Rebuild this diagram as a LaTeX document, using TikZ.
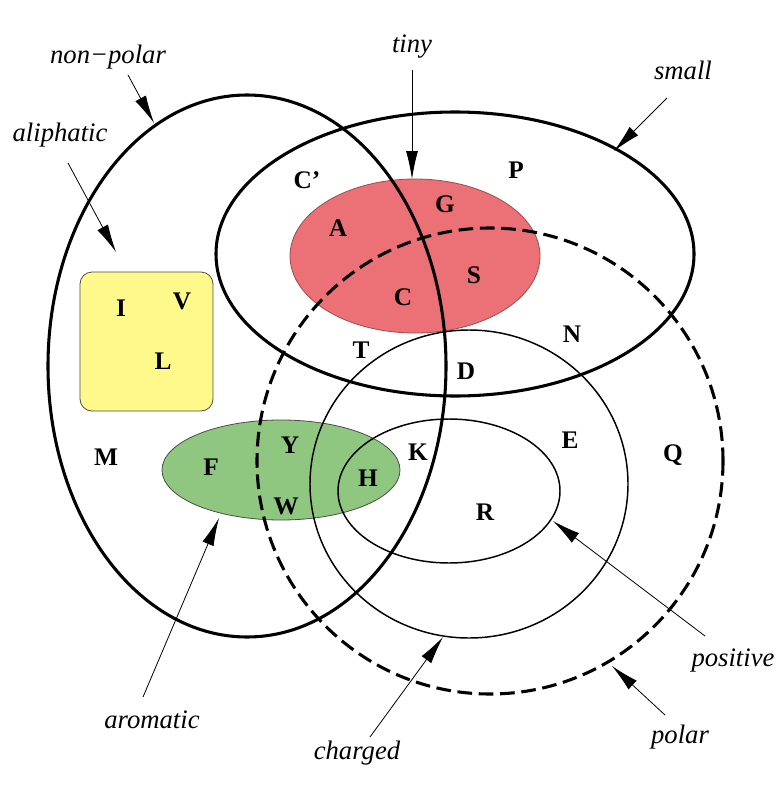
\documentclass[tikz,border=0pt]{standalone}
\usepackage{fontspec}
\setmainfont{Liberation Serif}
\usetikzlibrary{arrows.meta}

\definecolor{tinyred}{RGB}{235,113,118}
\definecolor{aromgreen}{RGB}{143,198,128}
\definecolor{aliphyellow}{RGB}{255,249,140}

\begin{document}
\begin{tikzpicture}[x=0.75pt,y=-0.75pt,
  setline/.style={line width=2.3pt},
  thinset/.style={line width=1.1pt},
  polarline/.style={line width=2.3pt,dash pattern=on 11pt off 5pt},
  fillset/.style={draw=black!70,line width=0.6pt},
  aa/.style={font=\fontsize{19}{22}\selectfont\bfseries,inner sep=0pt},
  lbl/.style={font=\fontsize{20}{24}\selectfont\itshape,inner sep=1pt},
  pointer/.style={line width=0.6pt,-{Latex[length=21pt,width=9pt]}}]

\useasboundingbox (0,0) rectangle (778,792);
\fill[white] (0,0) rectangle (778,792);

% filled classes
\draw[fillset,fill=aliphyellow,rounded corners=9pt] (80,272) rectangle (213,411);
\draw[fillset,draw=red!45!black!70,fill=tinyred] (415,256) ellipse [x radius=125, y radius=77];
\draw[fillset,fill=aromgreen] (281,470) ellipse [x radius=119, y radius=50];

% outlined classes
\draw[setline] (247,366) ellipse [x radius=199, y radius=271];   % non-polar
\draw[setline] (455,254) ellipse [x radius=239, y radius=142];   % small
\draw[polarline] (490,461) circle [radius=233];                  % polar
\draw[thinset] (469,484) ellipse [x radius=159, y radius=154];   % charged
\draw[thinset] (449,491) ellipse [x radius=111, y radius=72];    % positive

% amino acids
\node[aa] (Cp) at (307,180) {C'};
\node[aa] (P) at (516,170) {P};
\node[aa] (A) at (338,228) {A};
\node[aa] (G) at (445,204) {G};
\node[aa] (S) at (474,275) {S};
\node[aa] (C) at (403,297) {C};
\node[aa] (I) at (121,308) {I};
\node[aa] (V) at (182,301) {V};
\node[aa] (L) at (163,361) {L};
\node[aa] (T) at (361,350) {T};
\node[aa] (N) at (572,334) {N};
\node[aa] (D) at (466,371) {D};
\node[aa] (E) at (570,440) {E};
\node[aa] (Q) at (673,455) {Q};
\node[aa] (M) at (106,457) {M};
\node[aa] (F) at (211,467) {F};
\node[aa] (Y) at (290,445) {Y};
\node[aa] (K) at (418,452) {K};
\node[aa] (H) at (368,478) {H};
\node[aa] (W) at (286,506) {W};
\node[aa] (R) at (485,512) {R};

% class labels
\node[lbl] (lnp) at (108,57) {non−polar};
\node[lbl] (ltiny) at (412,47) {tiny};
\node[lbl] (lsmall) at (683,70) {small};
\node[lbl] (laliph) at (60,135) {aliphatic};
\node[lbl] (larom) at (152,720) {aromatic};
\node[lbl] (lcharged) at (357,753) {charged};
\node[lbl] (lpolar) at (680,737) {polar};
\node[lbl] (lpos) at (733,661) {positive};

% pointer ends
\coordinate (np0) at (128,75);   \coordinate (np1) at (154,123);
\coordinate (al0) at (68,163);   \coordinate (al1) at (116,252);
\coordinate (ti0) at (412,70);   \coordinate (ti1) at (412,179);
\coordinate (sm0) at (667,98);   \coordinate (sm1) at (614,151);
\coordinate (ar0) at (143,697);  \coordinate (ar1) at (219,518);
\coordinate (ch0) at (370,737);  \coordinate (ch1) at (443,637);
\coordinate (po0) at (705,636);  \coordinate (po1) at (553,521);
\coordinate (pl0) at (665,715);  \coordinate (pl1) at (612,666);

\draw[pointer] (np0) -- (np1);
\draw[pointer] (al0) -- (al1);
\draw[pointer] (ti0) -- (ti1);
\draw[pointer] (sm0) -- (sm1);
\draw[pointer] (ar0) -- (ar1);
\draw[pointer] (ch0) -- (ch1);
\draw[pointer] (po0) -- (po1);
\draw[pointer] (pl0) -- (pl1);
\end{tikzpicture}
\end{document}
